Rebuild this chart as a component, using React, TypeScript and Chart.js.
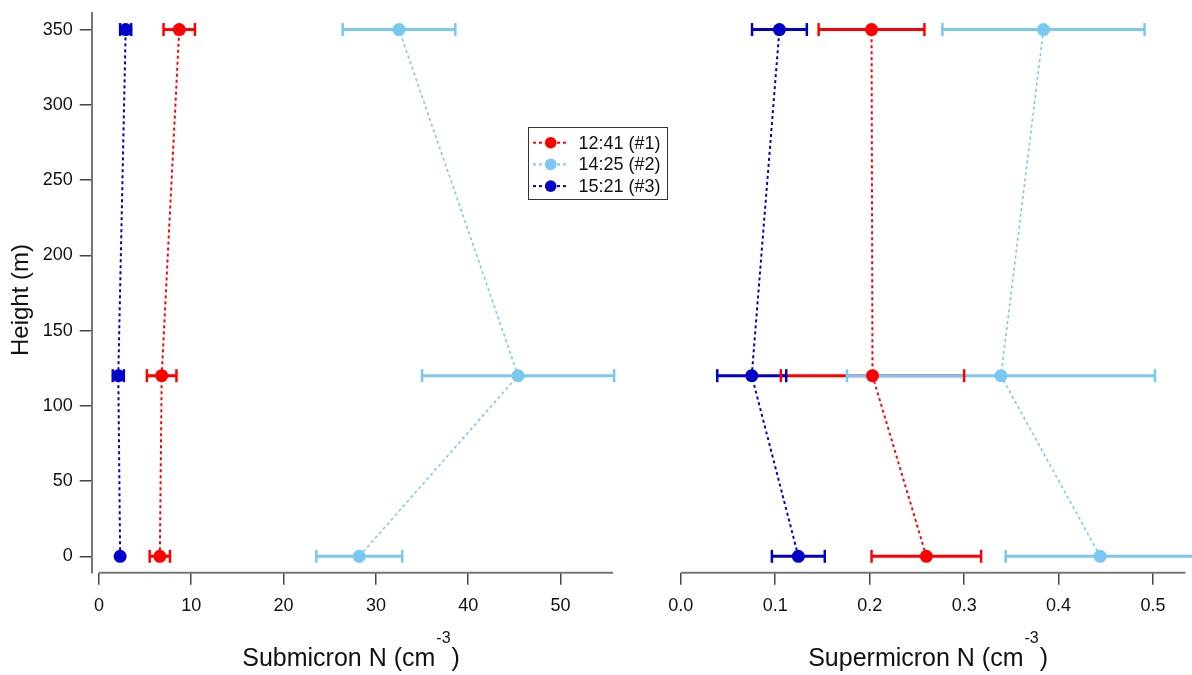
import React, { useEffect, useRef } from "react";
import { Chart, registerables } from "chart.js";

Chart.register(...registerables);

const FONT = '"Liberation Sans", Arial, Helvetica, sans-serif';

// Sampling heights (m)
const heights = [0, 120, 350];
const heightTicks = [0, 50, 100, 150, 200, 250, 300, 350];

const seriesLabels = ["12:41 (#1)", "14:25 (#2)", "15:21 (#3)"];
const seriesColors = ["#ff0000", "#7ac8f2", "#0000c8"];

// Submicron number concentration (cm^-3) and its uncertainty, per height
const subRun1 = [6.6, 6.8, 8.7];
const subRun1Err = [1.1, 1.6, 1.7];
const subRun2 = [28.2, 45.4, 32.5];
const subRun2Err = [4.65, 10.4, 6.1];
const subRun3 = [2.3, 2.1, 2.9];
const subRun3Err = [0, 0.6, 0.6];
const subTicks = [0, 10, 20, 30, 40, 50];

// Supermicron number concentration (cm^-3) and its uncertainty, per height
const supRun1 = [0.26, 0.203, 0.202];
const supRun1Err = [0.058, 0.097, 0.056];
const supRun2 = [0.444, 0.339, 0.384];
const supRun2Err = [0.1, 0.163, 0.107];
const supRun3 = [0.1245, 0.0752, 0.1045];
const supRun3Err = [0.028, 0.0365, 0.029];
const supTicks = [0, 0.1, 0.2, 0.3, 0.4, 0.5];

type Pt = { x: number; y: number; err: number };

function series(vals: number[], errs: number[]): Pt[] {
  return vals.map((v, i) => ({ x: v, y: heights[i], err: errs[i] }));
}

// Horizontal error bars: bar lines first, then caps, all beneath the markers
const errorBarPlugin = {
  id: "hErrorBars",
  beforeDatasetsDraw(chart: any) {
    const { ctx } = chart;
    const xs = chart.scales.x;
    const ys = chart.scales.y;
    ctx.save();
    ctx.setLineDash([]);
    chart.data.datasets.forEach((ds: any) => {
      ctx.strokeStyle = ds.borderColor;
      ctx.lineWidth = 3;
      ds.data.forEach((p: Pt) => {
        if (!p.err) return;
        const y = ys.getPixelForValue(p.y);
        ctx.beginPath();
        ctx.moveTo(xs.getPixelForValue(p.x - p.err), y);
        ctx.lineTo(xs.getPixelForValue(p.x + p.err), y);
        ctx.stroke();
      });
    });
    chart.data.datasets.forEach((ds: any) => {
      ctx.strokeStyle = ds.borderColor;
      ctx.lineWidth = 2.5;
      ds.data.forEach((p: Pt) => {
        if (!p.err) return;
        const y = ys.getPixelForValue(p.y);
        [p.x - p.err, p.x + p.err].forEach((v) => {
          const x = xs.getPixelForValue(v);
          ctx.beginPath();
          ctx.moveTo(x, y - 6.5);
          ctx.lineTo(x, y + 6.5);
          ctx.stroke();
        });
      });
    });
    ctx.restore();
  },
};

// Bottom axis line that starts at x = 0, plus the title with a superscript unit
function axisDecor(title: string, sup: string, close: string, yTitle?: string) {
  return {
    id: "axisDecor",
    afterDraw(chart: any) {
      const { ctx, chartArea } = chart;
      const xs = chart.scales.x;
      const x0 = xs.getPixelForValue(0);
      ctx.save();
      ctx.strokeStyle = "#777";
      ctx.lineWidth = 2;
      ctx.beginPath();
      ctx.moveTo(x0, chartArea.bottom);
      ctx.lineTo(chartArea.right, chartArea.bottom);
      ctx.stroke();

      const base = 666;
      ctx.fillStyle = "#111";
      ctx.textBaseline = "alphabetic";
      ctx.textAlign = "left";
      ctx.font = `25px ${FONT}`;
      const w1 = ctx.measureText(title).width;
      const w3 = ctx.measureText(close).width;
      ctx.font = `16px ${FONT}`;
      const w2 = ctx.measureText(sup).width;
      const total = w1 + w2 + w3 + 2;
      const cx = (x0 + chartArea.right) / 2 - 5;
      let x = cx - total / 2;
      ctx.font = `25px ${FONT}`;
      ctx.fillText(title, x, base);
      x += w1 + 1;
      ctx.font = `16px ${FONT}`;
      ctx.fillText(sup, x, base - 23);
      x += w2 + 1;
      ctx.font = `25px ${FONT}`;
      ctx.fillText(close, x, base);

      if (yTitle) {
        ctx.translate(21, 300);
        ctx.rotate(-Math.PI / 2);
        ctx.font = `24px ${FONT}`;
        ctx.textAlign = "center";
        ctx.textBaseline = "middle";
        ctx.fillText(yTitle, 0, 0);
      }
      ctx.restore();
    },
  };
}

// Boxed legend with dashed line + marker samples
const legendPlugin = {
  id: "boxLegend",
  afterDraw(chart: any) {
    const { ctx } = chart;
    const left = 528.5;
    const top = 127.5;
    const rowH = 21.7;
    ctx.save();
    ctx.strokeStyle = "#333";
    ctx.lineWidth = 1;
    ctx.setLineDash([]);
    ctx.strokeRect(left, top, 139, 72);
    chart.data.datasets.forEach((ds: any, i: number) => {
      const y = top + 15.2 + i * rowH;
      ctx.strokeStyle = ds.borderColor;
      ctx.lineWidth = 2;
      ctx.setLineDash([3, 3]);
      ctx.beginPath();
      ctx.moveTo(left + 4.5, y);
      ctx.lineTo(left + 40, y);
      ctx.stroke();
      ctx.setLineDash([]);
      ctx.fillStyle = ds.borderColor;
      ctx.beginPath();
      ctx.arc(left + 22.2, y, 5.8, 0, Math.PI * 2);
      ctx.fill();
      ctx.fillStyle = "#111";
      ctx.font = `18px ${FONT}`;
      ctx.textBaseline = "middle";
      ctx.textAlign = "left";
      ctx.fillText(ds.label, left + 50, y + 1);
    });
    ctx.restore();
  },
};

function datasets(vals: Pt[][]) {
  return vals.map((d, i) => ({
    label: seriesLabels[i],
    data: d,
    showLine: true,
    borderColor: seriesColors[i],
    backgroundColor: seriesColors[i],
    borderWidth: i === 1 ? 1.6 : 2,
    borderDash: [3, 3],
    pointRadius: 6.5,
    pointBorderWidth: 0,
    pointBackgroundColor: seriesColors[i],
  }));
}

const tickFont = { family: FONT, size: 18 };

function yScale(show: boolean) {
  return {
    type: "linear",
    min: -10.9,
    max: 361,
    display: show,
    afterBuildTicks: (s: any) => {
      s.ticks = heightTicks.map((v) => ({ value: v }));
    },
    afterFit: (s: any) => {
      s.width = show ? 91.7 : 0;
      s.paddingTop = 0;
      s.paddingBottom = 0;
    },
    grid: { drawOnChartArea: false, drawTicks: true, tickLength: 12, color: "#444", lineWidth: 1.5 },
    border: { display: true, color: "#777", width: 2 },
    ticks: { font: tickFont, color: "#111", padding: 7 },
  };
}

function xScale(min: number, max: number, ticks: number[], fmt: (v: number) => string) {
  return {
    type: "linear",
    position: "bottom",
    min,
    max,
    afterBuildTicks: (s: any) => {
      s.ticks = ticks.map((v) => ({ value: v }));
    },
    afterFit: (s: any) => {
      s.height = 102.3;
      s.paddingLeft = 0;
      s.paddingRight = 0;
    },
    grid: { drawOnChartArea: false, drawTicks: true, tickLength: 12, color: "#444", lineWidth: 1.5 },
    border: { display: false },
    ticks: { font: tickFont, color: "#111", padding: 11, maxRotation: 0, callback: (v: any) => fmt(Number(v)) },
  };
}

export default function App() {
  const leftRef = useRef<HTMLCanvasElement>(null);
  const rightRef = useRef<HTMLCanvasElement>(null);

  useEffect(() => {
    const common = {
      responsive: false,
      animation: false,
      events: [],
      plugins: { legend: { display: false }, tooltip: { enabled: false } },
    };

    const left = new Chart(leftRef.current as HTMLCanvasElement, {
      type: "scatter",
      data: {
        datasets: datasets([
          series(subRun1, subRun1Err),
          series(subRun2, subRun2Err),
          series(subRun3, subRun3Err),
        ]),
      } as any,
      options: {
        ...common,
        layout: { padding: { left: 0, top: 13, right: 66.8, bottom: 0 } },
        scales: {
          x: xScale(-0.78, 55.7, subTicks, (v) => String(v)),
          y: yScale(true),
        },
      } as any,
      plugins: [errorBarPlugin, axisDecor("Submicron N (cm", "-3", ")", "Height (m)"), legendPlugin],
    });

    const right = new Chart(rightRef.current as HTMLCanvasElement, {
      type: "scatter",
      data: {
        datasets: datasets([
          series(supRun1, supRun1Err),
          series(supRun2, supRun2Err),
          series(supRun3, supRun3Err),
        ]),
      } as any,
      options: {
        ...common,
        layout: { padding: { left: 80.7, top: 13, right: 0, bottom: 0 } },
        scales: {
          x: xScale(0, 0.5343, supTicks, (v) => v.toFixed(1)),
          y: yScale(false),
        },
      } as any,
      plugins: [errorBarPlugin, axisDecor("Supermicron N (cm", "-3", ")")],
    });

    return () => {
      left.destroy();
      right.destroy();
    };
  }, []);

  return (
    <div
      style={{
        position: "fixed",
        left: 0,
        top: 0,
        width: 1192,
        height: 675,
        background: "#fff",
        overflow: "hidden",
      }}
    >
      <canvas ref={leftRef} width={680} height={675} style={{ position: "absolute", left: 0, top: 0 }} />
      <canvas ref={rightRef} width={592} height={675} style={{ position: "absolute", left: 600, top: 0 }} />
    </div>
  );
}
